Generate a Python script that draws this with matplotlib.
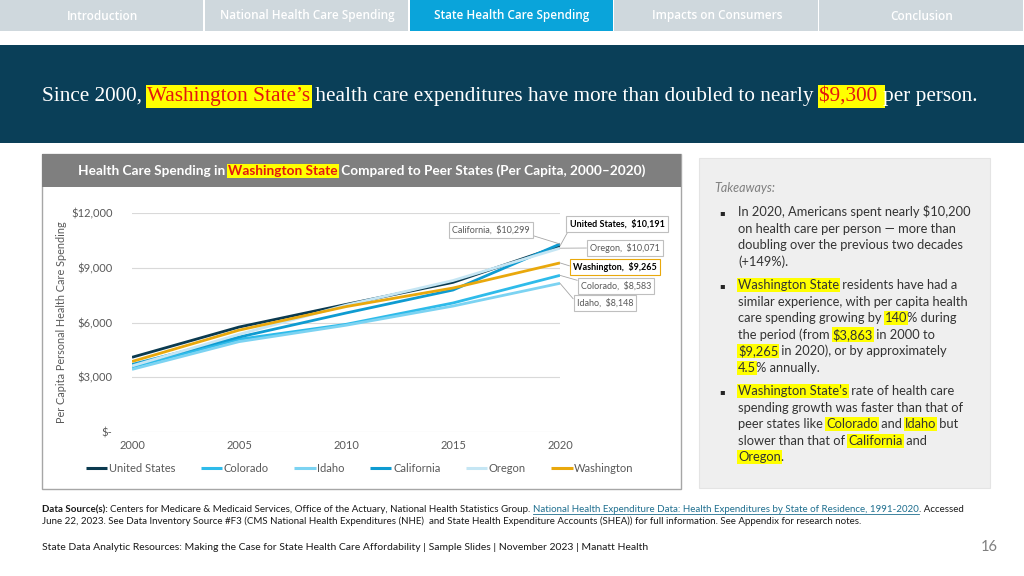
import matplotlib
matplotlib.use("Agg")
import matplotlib.pyplot as plt
from matplotlib.font_manager import FontProperties
from matplotlib.patches import Rectangle
from matplotlib.ticker import FuncFormatter

plt.rcParams["text.parse_math"] = False

# ---- data (per capita personal health care spending, $) ----
years = [2000, 2005, 2010, 2015, 2020]
united_states = [4093, 5750, 6990, 8200, 10191]
colorado = [3560, 5080, 5900, 7070, 8583]
idaho = [3430, 4950, 5850, 6900, 8148]
california = [3700, 5200, 6520, 7780, 10299]
oregon = [3620, 5350, 6950, 8300, 10071]
washington = [3863, 5580, 6870, 7890, 9265]

series = [
    ("United States", united_states, "#0B3A4F"),
    ("Colorado", colorado, "#2EBBEA"),
    ("Idaho", idaho, "#7CD3F2"),
    ("California", california, "#0E9BD1"),
    ("Oregon", oregon, "#C5E6F4"),
    ("Washington", washington, "#E9A80C"),
]
y_ticks = [0, 3000, 6000, 9000, 12000]
tabs = ["Introduction", "National Health Care Spending", "State Health Care Spending",
        "Impacts on Consumers", "Conclusion"]
active_tab = 2

W, H = 1024, 576
fig = plt.figure(figsize=(W / 100, H / 100), dpi=100)
bg = fig.add_axes([0, 0, 1, 1], zorder=0)
bg.set_xlim(0, W)
bg.set_ylim(H, 0)
bg.axis("off")
rend = fig.canvas.get_renderer()


def text_width(s, fp):
    a = rend.get_text_width_height_descent(s + "|", fp, ismath=False)[0]
    b = rend.get_text_width_height_descent("|", fp, ismath=False)[0]
    return a - b


def draw_runs(x, y, parts, size, family="Lato", color="#404040", fit=None, bold=False):
    # parts: list of (text, kind); kind in None, "hl", "hlred", "bold", "link"
    def props(kind, sz):
        w = "bold" if (bold or kind == "bold") else "normal"
        return FontProperties(family=family, size=sz, weight=w)

    if fit is not None:
        total = sum(text_width(s, props(kind, size)) for s, kind in parts)
        size = size * fit / total
    for s, kind in parts:
        fp = props(kind, size)
        c = color
        box = None
        if kind in ("hl", "hlred"):
            box = dict(boxstyle="square,pad=0.08", fc="#FFFF00", ec="none")
            if kind == "hlred":
                c = "#E3170F"
        if kind == "link":
            c = "#1F6F8F"
        bg.text(x, y, s, fontproperties=fp, color=c, va="baseline", ha="left", bbox=box)
        w = text_width(s, fp)
        if kind == "link":
            bg.plot([x, x + w], [y + 1.6, y + 1.6], color=c, lw=0.6)
        x += w
    return size


# ---- navigation bar ----
tab_w = W / len(tabs)
for i, name in enumerate(tabs):
    fc = "#0AA4DA" if i == active_tab else "#CFD8DD"
    bg.add_patch(Rectangle((i * tab_w, 0), tab_w - 1.5, 31, fc=fc, ec="none"))
    bg.text(i * tab_w + tab_w / 2, 16, name, ha="center", va="center", color="white",
            fontsize=8.5, family="Open Sans", weight="semibold")

# ---- banner ----
bg.add_patch(Rectangle((0, 45), W, 98, fc="#0A3F58", ec="none"))
draw_runs(42, 101, [("Since 2000, ", None), ("Washington State\u2019s", "hlred"),
                    (" health care expenditures have more than doubled to nearly ", None),
                    ("$9,300 ", "hlred"), ("per person.", None)],
          15, family="Liberation Serif", color="white", fit=940)

# ---- chart panel ----
bg.add_patch(Rectangle((42, 154), 639, 335, fc="white", ec="#A6A6A6", lw=1))
bg.add_patch(Rectangle((42, 154), 639, 33, fc="#7F7F7F", ec="none"))
draw_runs(78, 175, [("Health Care Spending in ", None), ("Washington State", "hlred"),
                    (" Compared to Peer States (Per Capita, 2000\u20132020)", None)],
          10, color="white", fit=567, bold=True)

ax = fig.add_axes([132 / W, 1 - 432 / H, (560 - 132) / W, (432 - 213) / H], zorder=2)
ax.set_facecolor("none")
for name, vals, col in series:
    ax.plot(years, vals, color=col, lw=2.0, label=name, solid_capstyle="butt")
ax.set_xlim(2000, 2020)
ax.set_ylim(0, 12000)
ax.set_xticks([2000, 2005, 2010, 2015, 2020])
ax.set_yticks(y_ticks)
ax.yaxis.set_major_formatter(FuncFormatter(lambda v, p: "$-" if v == 0 else f"${v:,.0f}"))
ax.grid(axis="y", color="#D9D9D9", lw=0.8)
ax.set_axisbelow(True)
for sp in ax.spines.values():
    sp.set_visible(False)
ax.tick_params(length=0, labelsize=8, labelcolor="#595959", pad=6)
ax.tick_params(axis="y", pad=14)
for lab in ax.get_xticklabels() + ax.get_yticklabels():
    lab.set_family("Lato")
ax.set_ylabel("Per Capita Personal Health Care Spending", fontsize=7.8, color="#595959",
              family="Lato")
ax.yaxis.set_label_coords(-0.152, 0.5)

leg = ax.legend(loc="center", bbox_to_anchor=(360 / W, 1 - 468 / H), bbox_transform=fig.transFigure,
                ncol=6, frameon=False, handlelength=1.9, handletextpad=0.15,
                columnspacing=2.3, prop={"family": "Lato", "size": 8})
for t in leg.get_texts():
    t.set_color("#595959")
for line in leg.get_lines():
    line.set_linewidth(2.2)

# end-point labels
labels = [
    ("California", california, (491, 230), False, "#BFBFBF", (1, 0)),
    ("United States", united_states, (617, 224), True, "#BFBFBF", (0, 0)),
    ("Oregon", oregon, (625, 248), False, "#BFBFBF", (0, 0.5)),
    ("Washington", washington, (615, 267), True, "#E9A80C", (0, 0.5)),
    ("Colorado", colorado, (616, 286), False, "#BFBFBF", (0, 1)),
    ("Idaho", idaho, (605, 303), False, "#BFBFBF", (0, 0.5)),
]
for name, vals, (lx, ly), bold, ec, rp in labels:
    ax.annotate(f"{name},  ${vals[-1]:,}", xy=(years[-1], vals[-1]), xytext=(lx, H - ly),
                textcoords="figure pixels", ha="center", va="center", fontsize=6.5,
                family="Lato", fontweight="bold" if bold else "normal",
                color="black" if bold else "#595959", annotation_clip=False,
                bbox=dict(boxstyle="square,pad=0.35", fc="white", ec=ec, lw=0.8),
                arrowprops=dict(arrowstyle="-", color="#A6A6A6", lw=0.6, relpos=rp,
                                shrinkA=0, shrinkB=0))

# ---- takeaways panel ----
bg.add_patch(Rectangle((699, 158), 291, 330, fc="#EFEFEF", ec="#E4E4E4", lw=0.8))
bg.text(714, 192, "Takeaways:", fontsize=9, style="italic", color="#7F7F7F", family="Lato",
        va="baseline")
bullets = [
    (216, [
        [("In 2020, Americans spent nearly $10,200", None)],
        [("on health care per person \u2014 more than", None)],
        [("doubling over the previous two decades", None)],
        [("(+149%).", None)],
    ]),
    (289, [
        [("Washington State", "hl"), (" residents have had a", None)],
        [("similar experience, with per capita health", None)],
        [("care spending growing by ", None), ("140", "hl"), ("% during", None)],
        [("the period (from ", None), ("$3,863", "hl"), (" in 2000 to", None)],
        [("$9,265", "hl"), (" in 2020), or by approximately", None)],
        [("4.5", "hl"), ("% annually.", None)],
    ]),
    (395, [
        [("Washington State\u2019s", "hl"), (" rate of health care", None)],
        [("spending growth was faster than that of", None)],
        [("peer states like ", None), ("Colorado", "hl"), (" and ", None), ("Idaho", "hl"),
         (" but", None)],
        [("slower than that of ", None), ("California", "hl"), (" and", None)],
        [("Oregon", "hl"), (".", None)],
    ]),
]
for y0, lines in bullets:
    bg.text(719, y0 - 1, "\u25aa", fontsize=6, color="#262626", family="DejaVu Sans",
            va="baseline")
    for k, parts in enumerate(lines):
        draw_runs(738, y0 + k * 16.6, parts, 9.3, color="#333333")

# ---- footer ----
draw_runs(42, 512, [("Data Source(s): ", "bold"),
                    ("Centers for Medicare & Medicaid Services, Office of the Actuary, "
                     "National Health Statistics Group. ", None),
                    ("National Health Expenditure Data: Health Expenditures by State of "
                     "Residence, 1991-2020", "link"),
                    (". Accessed", None)], 7, color="#1A1A1A", fit=924)
draw_runs(42, 524, [("June 22, 2023. See Data Inventory Source #F3 (CMS National Health "
                     "Expenditures (NHE)  and State Health Expenditure Accounts (SHEA)) for "
                     "full information. See Appendix for research notes.", None)],
          7, color="#1A1A1A", fit=821)
draw_runs(42, 550, [("State Data Analytic Resources: Making the Case for State Health Care "
                     "Affordability | Sample Slides | November 2023 | Manatt Health", None)],
          8, color="#1A1A1A", fit=611)
bg.text(998, 551, "16", fontsize=10.5, color="#7F7F7F", family="Lato", ha="right",
        va="baseline")

fig.savefig("out.png", dpi=100)
